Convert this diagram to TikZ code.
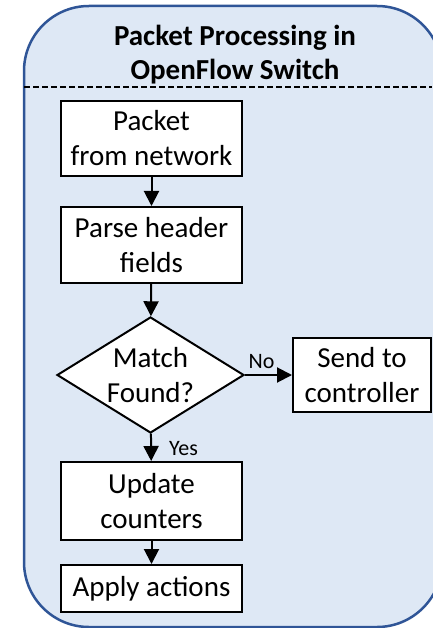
\documentclass[tikz,border=0pt]{standalone}
\usepackage{fontspec}
\setmainfont{Carlito}
\usetikzlibrary{arrows.meta,shapes.geometric}
\definecolor{panelfill}{HTML}{DEE8F5}
\definecolor{panelline}{HTML}{2F5597}
\begin{document}
\begin{tikzpicture}[x=1pt,y=-1pt,
  stepbox/.style={draw=black, line width=2pt, fill=white, inner sep=0pt,
    align=center, minimum width=181pt, font=\fontsize{29}{35}\selectfont},
  decision/.style={diamond, draw=black, line width=2pt, fill=white,
    inner sep=0pt, minimum width=187pt, minimum height=116pt, aspect=1.61},
  arr/.style={line width=2pt, -{Triangle[length=15pt,width=15pt]}},
  lbl/.style={font=\fontsize{22}{26}\selectfont, inner sep=0pt},
  bodytext/.style={align=center, inner sep=0pt, font=\fontsize{29}{35}\selectfont}]
\useasboundingbox (0,0) rectangle (432,628);

% switch panel
\draw[panelline, fill=panelfill, line width=2.5pt, rounded corners=65pt]
  (24,6) rectangle (442,627);
\node[align=center, inner sep=0pt, font=\bfseries\fontsize{29}{34}\selectfont]
  (title) at (235,55) {Packet Processing in\\OpenFlow Switch};
\coordinate (sepL) at (24,87);
\coordinate (sepR) at (432,87);
\draw[black, line width=1.5pt, dash pattern=on 6pt off 3pt] (sepL) -- (sepR);

% flow steps
\node[stepbox, minimum height=75pt] (recv) at (151.5,138.5) {Packet\\from network};
\node[stepbox, minimum height=76pt] (parse) at (151.5,245) {Parse header\\fields};
\node[decision] (match) at (150.5,375) {};
\node[bodytext] (matchtxt) at (match.center) {Match\\Found?};
\node[stepbox, minimum width=138pt, minimum height=74pt] (ctrl) at (362,375) {Send to\\controller};
\node[stepbox, minimum height=78pt] (update) at (151.5,501) {Update\\counters};
\node[stepbox, minimum height=47pt] (apply) at (151.5,588.5) {Apply actions};

% connectors
\draw[arr] (recv) -- (parse);
\draw[arr] (parse) -- (match);
\draw[arr] (match) -- (ctrl);
\draw[arr] (match) -- (update);
\draw[arr] (update) -- (apply);
\node[lbl, anchor=base] (no) at (261.5,368) {No};
\node[lbl, anchor=base west] (yes) at (169,455) {Yes};
\end{tikzpicture}
\end{document}
